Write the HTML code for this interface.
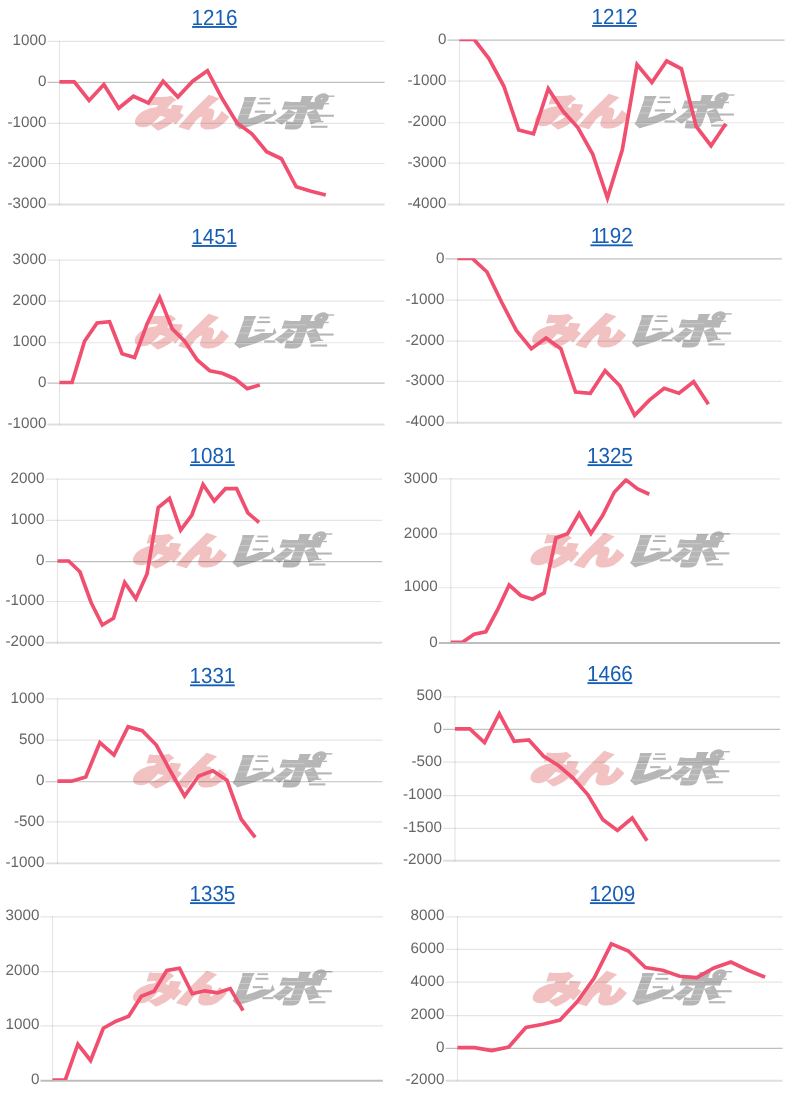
<!DOCTYPE html>
<html lang="ja"><head><meta charset="utf-8"><title>charts</title>
<style>
html,body{margin:0;padding:0;background:#fff;}
body{width:800px;height:1095px;overflow:hidden;}
svg{display:block;}
.lb{font-family:"Liberation Sans",Arial,Helvetica,sans-serif;font-size:15.2px;fill:#666666;text-anchor:end;text-rendering:geometricPrecision;}
.tt{font-family:"Liberation Sans",Arial,Helvetica,sans-serif;font-size:20.6px;fill:#155db5;text-anchor:middle;text-rendering:geometricPrecision;}
.wm{font-family:"Liberation Sans","Noto Sans CJK JP",sans-serif;font-weight:900;font-size:40px;text-rendering:geometricPrecision;}
.ln{fill:none;stroke:#f14f6f;stroke-width:3.7;stroke-linejoin:miter;stroke-linecap:butt;}
</style></head><body>
<svg width="800" height="1095" viewBox="0 0 800 1095">
<rect width="800" height="1095" fill="#fff"/>
<defs><clipPath id="clipRe"><polygon points="-95,46 48.5,46 40,72.8 58.5,72.8 67,46 130,46 130,94 -95,94"/></clipPath></defs>
<g id="c1">
<a><text class="tt" transform="translate(214.5,25.05) scale(1,1.06)">1216</text></a>
<rect x="192.1" y="26.05" width="44.8" height="1.85" fill="#155db5"/>
<g transform="translate(214.5,41.3)"><g clip-path="url(#clipRe)"><text class="wm" transform="translate(-81.2,85) scale(1.1469,0.9028) skewX(-15.821)" fill="#f2c2c2" stroke="#f2c2c2" stroke-width="3.3">みん<tspan dx="2.2" fill="#b6b6b6" stroke="#b6b6b6" stroke-width="2.5">レポ</tspan></text></g><rect x="45" y="56.5" width="10.5" height="1.8" fill="#b6b6b6"/><rect x="43" y="61" width="13" height="2" fill="#b6b6b6"/><rect x="40.3" y="69.3" width="10.3" height="2.1" fill="#b6b6b6"/><rect x="50" y="80.3" width="11" height="2.1" fill="#b6b6b6"/><rect x="96.5" y="65.9" width="10.5" height="1.4" fill="#b6b6b6"/><rect x="103.5" y="73.4" width="15.9" height="2.1" fill="#b6b6b6"/><rect x="100.8" y="79.6" width="8.2" height="1.4" fill="#b6b6b6"/><rect x="96.6" y="84.4" width="16.4" height="2.1" fill="#b6b6b6"/><rect x="111.8" y="54.2" width="8.2" height="1.4" fill="#b6b6b6"/><rect x="100.8" y="61.7" width="13.7" height="1.4" fill="#b6b6b6"/><rect x="30" y="59.6" width="17" height="0.7" fill="#fff" opacity="0.4"/><rect x="27" y="66.2" width="17" height="0.7" fill="#fff" opacity="0.4"/><rect x="24" y="72.6" width="18" height="0.7" fill="#fff" opacity="0.4"/><rect x="22" y="82.9" width="28" height="0.7" fill="#fff" opacity="0.4"/><rect x="64" y="64.5" width="28" height="0.7" fill="#fff" opacity="0.4"/><rect x="62" y="71.9" width="38" height="0.7" fill="#fff" opacity="0.4"/><rect x="60" y="77.6" width="44" height="0.7" fill="#fff" opacity="0.4"/><rect x="58" y="83.2" width="42" height="0.7" fill="#fff" opacity="0.4"/></g>
<line x1="47.5" y1="41.3" x2="384.6" y2="41.3" stroke="#000" stroke-opacity="0.1" stroke-width="1.2"/>
<text class="lb" transform="translate(46.4,44.9) scale(1,1)">1000</text>
<line x1="47.5" y1="82.4" x2="384.6" y2="82.4" stroke="#000" stroke-opacity="0.25" stroke-width="1.2"/>
<text class="lb" transform="translate(46.4,86) scale(1,1)">0</text>
<line x1="47.5" y1="123.3" x2="384.6" y2="123.3" stroke="#000" stroke-opacity="0.1" stroke-width="1.2"/>
<text class="lb" transform="translate(46.4,126.9) scale(1,1)">-1000</text>
<line x1="47.5" y1="163.5" x2="384.6" y2="163.5" stroke="#000" stroke-opacity="0.1" stroke-width="1.2"/>
<text class="lb" transform="translate(46.4,167.1) scale(1,1)">-2000</text>
<line x1="47.5" y1="204.5" x2="384.6" y2="204.5" stroke="#000" stroke-opacity="0.125" stroke-width="1.9"/>
<text class="lb" transform="translate(46.4,208.1) scale(1,1)">-3000</text>
<line x1="59.5" y1="40.7" x2="59.5" y2="205.1" stroke="#000" stroke-opacity="0.1" stroke-width="1.2"/>
<clipPath id="cp1"><rect x="58.9" y="40.7" width="326.3" height="163.2"/></clipPath>
<polyline class="ln" clip-path="url(#cp1)" points="59.5,81.8 74.3,81.8 89.09,100.5 103.88,84.5 118.68,108.25 133.47,96.25 148.27,103 163.06,81.25 177.86,97 192.66,81.25 207.45,70.75 222.25,98.75 237.04,123 251.84,133.75 266.63,151.75 281.43,158.75 296.22,186.75 311.01,191.25 325.81,195"/>
</g>
<g id="c2">
<a><text class="tt" transform="translate(614.5,24.05) scale(1,1.06)">1212</text></a>
<rect x="592.1" y="25.05" width="44.8" height="1.85" fill="#155db5"/>
<g transform="translate(614.5,40.1)"><g clip-path="url(#clipRe)"><text class="wm" transform="translate(-81.2,85) scale(1.1469,0.9028) skewX(-15.821)" fill="#f2c2c2" stroke="#f2c2c2" stroke-width="3.3">みん<tspan dx="2.2" fill="#b6b6b6" stroke="#b6b6b6" stroke-width="2.5">レポ</tspan></text></g><rect x="45" y="56.5" width="10.5" height="1.8" fill="#b6b6b6"/><rect x="43" y="61" width="13" height="2" fill="#b6b6b6"/><rect x="40.3" y="69.3" width="10.3" height="2.1" fill="#b6b6b6"/><rect x="50" y="80.3" width="11" height="2.1" fill="#b6b6b6"/><rect x="96.5" y="65.9" width="10.5" height="1.4" fill="#b6b6b6"/><rect x="103.5" y="73.4" width="15.9" height="2.1" fill="#b6b6b6"/><rect x="100.8" y="79.6" width="8.2" height="1.4" fill="#b6b6b6"/><rect x="96.6" y="84.4" width="16.4" height="2.1" fill="#b6b6b6"/><rect x="111.8" y="54.2" width="8.2" height="1.4" fill="#b6b6b6"/><rect x="100.8" y="61.7" width="13.7" height="1.4" fill="#b6b6b6"/><rect x="30" y="59.6" width="17" height="0.7" fill="#fff" opacity="0.4"/><rect x="27" y="66.2" width="17" height="0.7" fill="#fff" opacity="0.4"/><rect x="24" y="72.6" width="18" height="0.7" fill="#fff" opacity="0.4"/><rect x="22" y="82.9" width="28" height="0.7" fill="#fff" opacity="0.4"/><rect x="64" y="64.5" width="28" height="0.7" fill="#fff" opacity="0.4"/><rect x="62" y="71.9" width="38" height="0.7" fill="#fff" opacity="0.4"/><rect x="60" y="77.6" width="44" height="0.7" fill="#fff" opacity="0.4"/><rect x="58" y="83.2" width="42" height="0.7" fill="#fff" opacity="0.4"/></g>
<line x1="447.5" y1="40.1" x2="784.6" y2="40.1" stroke="#000" stroke-opacity="0.25" stroke-width="1.2"/>
<text class="lb" transform="translate(446.4,43.7) scale(1,1)">0</text>
<line x1="447.5" y1="81.2" x2="784.6" y2="81.2" stroke="#000" stroke-opacity="0.1" stroke-width="1.2"/>
<text class="lb" transform="translate(446.4,84.8) scale(1,1)">-1000</text>
<line x1="447.5" y1="122.75" x2="784.6" y2="122.75" stroke="#000" stroke-opacity="0.1" stroke-width="1.2"/>
<text class="lb" transform="translate(446.4,126.35) scale(1,1)">-2000</text>
<line x1="447.5" y1="163.1" x2="784.6" y2="163.1" stroke="#000" stroke-opacity="0.1" stroke-width="1.2"/>
<text class="lb" transform="translate(446.4,166.7) scale(1,1)">-3000</text>
<line x1="447.5" y1="204.5" x2="784.6" y2="204.5" stroke="#000" stroke-opacity="0.125" stroke-width="1.9"/>
<text class="lb" transform="translate(446.4,208.1) scale(1,1)">-4000</text>
<line x1="459.5" y1="39.5" x2="459.5" y2="205.1" stroke="#000" stroke-opacity="0.1" stroke-width="1.2"/>
<clipPath id="cp2"><rect x="458.9" y="39.5" width="326.3" height="164.4"/></clipPath>
<polyline class="ln" clip-path="url(#cp2)" points="459.5,39.5 474.3,39.5 489.09,58.75 503.88,86.25 518.68,130 533.48,133.75 548.27,88.75 563.07,111.25 577.86,127.5 592.65,154 607.45,198 622.25,150 637.04,64.6 651.84,82.5 666.63,61 681.42,68.75 696.22,126.5 711.01,145.75 725.81,123.75"/>
</g>
<g id="c3">
<a><text class="tt" transform="translate(214.2,244.05) scale(1,1.06)">1451</text></a>
<rect x="191.8" y="245.05" width="44.8" height="1.85" fill="#155db5"/>
<g transform="translate(214.2,260.1)"><g clip-path="url(#clipRe)"><text class="wm" transform="translate(-81.2,85) scale(1.1469,0.9028) skewX(-15.821)" fill="#f2c2c2" stroke="#f2c2c2" stroke-width="3.3">みん<tspan dx="2.2" fill="#b6b6b6" stroke="#b6b6b6" stroke-width="2.5">レポ</tspan></text></g><rect x="45" y="56.5" width="10.5" height="1.8" fill="#b6b6b6"/><rect x="43" y="61" width="13" height="2" fill="#b6b6b6"/><rect x="40.3" y="69.3" width="10.3" height="2.1" fill="#b6b6b6"/><rect x="50" y="80.3" width="11" height="2.1" fill="#b6b6b6"/><rect x="96.5" y="65.9" width="10.5" height="1.4" fill="#b6b6b6"/><rect x="103.5" y="73.4" width="15.9" height="2.1" fill="#b6b6b6"/><rect x="100.8" y="79.6" width="8.2" height="1.4" fill="#b6b6b6"/><rect x="96.6" y="84.4" width="16.4" height="2.1" fill="#b6b6b6"/><rect x="111.8" y="54.2" width="8.2" height="1.4" fill="#b6b6b6"/><rect x="100.8" y="61.7" width="13.7" height="1.4" fill="#b6b6b6"/><rect x="30" y="59.6" width="17" height="0.7" fill="#fff" opacity="0.4"/><rect x="27" y="66.2" width="17" height="0.7" fill="#fff" opacity="0.4"/><rect x="24" y="72.6" width="18" height="0.7" fill="#fff" opacity="0.4"/><rect x="22" y="82.9" width="28" height="0.7" fill="#fff" opacity="0.4"/><rect x="64" y="64.5" width="28" height="0.7" fill="#fff" opacity="0.4"/><rect x="62" y="71.9" width="38" height="0.7" fill="#fff" opacity="0.4"/><rect x="60" y="77.6" width="44" height="0.7" fill="#fff" opacity="0.4"/><rect x="58" y="83.2" width="42" height="0.7" fill="#fff" opacity="0.4"/></g>
<line x1="47.5" y1="260.1" x2="384.6" y2="260.1" stroke="#000" stroke-opacity="0.1" stroke-width="1.2"/>
<text class="lb" transform="translate(46.4,263.7) scale(1,1)">3000</text>
<line x1="47.5" y1="301.2" x2="384.6" y2="301.2" stroke="#000" stroke-opacity="0.1" stroke-width="1.2"/>
<text class="lb" transform="translate(46.4,304.8) scale(1,1)">2000</text>
<line x1="47.5" y1="342.75" x2="384.6" y2="342.75" stroke="#000" stroke-opacity="0.1" stroke-width="1.2"/>
<text class="lb" transform="translate(46.4,346.35) scale(1,1)">1000</text>
<line x1="47.5" y1="383.1" x2="384.6" y2="383.1" stroke="#000" stroke-opacity="0.25" stroke-width="1.2"/>
<text class="lb" transform="translate(46.4,386.7) scale(1,1)">0</text>
<line x1="47.5" y1="424.5" x2="384.6" y2="424.5" stroke="#000" stroke-opacity="0.125" stroke-width="1.9"/>
<text class="lb" transform="translate(46.4,428.1) scale(1,1)">-1000</text>
<line x1="59.5" y1="259.5" x2="59.5" y2="425.1" stroke="#000" stroke-opacity="0.1" stroke-width="1.2"/>
<clipPath id="cp3"><rect x="58.9" y="259.5" width="326.3" height="164.4"/></clipPath>
<polyline class="ln" clip-path="url(#cp3)" points="59.5,382.5 72.02,382.5 84.54,341.25 97.06,323 109.58,321.75 122.1,353.75 134.62,357.5 147.14,323.75 159.66,297.5 172.18,328.75 184.7,341.25 197.22,360 209.74,370.7 222.26,373.2 234.78,378.7 247.3,388.6 259.82,385"/>
</g>
<g id="c4">
<a><text class="tt" transform="translate(611.65,243.4) scale(1,1.06)">1<tspan dx="-2.3">1</tspan>92</text></a>
<rect x="590.4" y="244.4" width="42.5" height="1.85" fill="#155db5"/>
<g transform="translate(611.65,258.95)"><g clip-path="url(#clipRe)"><text class="wm" transform="translate(-81.2,85) scale(1.1469,0.9028) skewX(-15.821)" fill="#f2c2c2" stroke="#f2c2c2" stroke-width="3.3">みん<tspan dx="2.2" fill="#b6b6b6" stroke="#b6b6b6" stroke-width="2.5">レポ</tspan></text></g><rect x="45" y="56.5" width="10.5" height="1.8" fill="#b6b6b6"/><rect x="43" y="61" width="13" height="2" fill="#b6b6b6"/><rect x="40.3" y="69.3" width="10.3" height="2.1" fill="#b6b6b6"/><rect x="50" y="80.3" width="11" height="2.1" fill="#b6b6b6"/><rect x="96.5" y="65.9" width="10.5" height="1.4" fill="#b6b6b6"/><rect x="103.5" y="73.4" width="15.9" height="2.1" fill="#b6b6b6"/><rect x="100.8" y="79.6" width="8.2" height="1.4" fill="#b6b6b6"/><rect x="96.6" y="84.4" width="16.4" height="2.1" fill="#b6b6b6"/><rect x="111.8" y="54.2" width="8.2" height="1.4" fill="#b6b6b6"/><rect x="100.8" y="61.7" width="13.7" height="1.4" fill="#b6b6b6"/><rect x="30" y="59.6" width="17" height="0.7" fill="#fff" opacity="0.4"/><rect x="27" y="66.2" width="17" height="0.7" fill="#fff" opacity="0.4"/><rect x="24" y="72.6" width="18" height="0.7" fill="#fff" opacity="0.4"/><rect x="22" y="82.9" width="28" height="0.7" fill="#fff" opacity="0.4"/><rect x="64" y="64.5" width="28" height="0.7" fill="#fff" opacity="0.4"/><rect x="62" y="71.9" width="38" height="0.7" fill="#fff" opacity="0.4"/><rect x="60" y="77.6" width="44" height="0.7" fill="#fff" opacity="0.4"/><rect x="58" y="83.2" width="42" height="0.7" fill="#fff" opacity="0.4"/></g>
<line x1="445.5" y1="258.95" x2="781.8" y2="258.95" stroke="#000" stroke-opacity="0.25" stroke-width="1.2"/>
<text class="lb" transform="translate(444.4,262.55) scale(1,1)">0</text>
<line x1="445.5" y1="300.2" x2="781.8" y2="300.2" stroke="#000" stroke-opacity="0.1" stroke-width="1.2"/>
<text class="lb" transform="translate(444.4,303.8) scale(1,1)">-1000</text>
<line x1="445.5" y1="341.2" x2="781.8" y2="341.2" stroke="#000" stroke-opacity="0.1" stroke-width="1.2"/>
<text class="lb" transform="translate(444.4,344.8) scale(1,1)">-2000</text>
<line x1="445.5" y1="381.3" x2="781.8" y2="381.3" stroke="#000" stroke-opacity="0.1" stroke-width="1.2"/>
<text class="lb" transform="translate(444.4,384.9) scale(1,1)">-3000</text>
<line x1="445.5" y1="422.7" x2="781.8" y2="422.7" stroke="#000" stroke-opacity="0.125" stroke-width="1.9"/>
<text class="lb" transform="translate(444.4,426.3) scale(1,1)">-4000</text>
<line x1="457.5" y1="258.35" x2="457.5" y2="423.3" stroke="#000" stroke-opacity="0.1" stroke-width="1.2"/>
<clipPath id="cp4"><rect x="456.9" y="258.35" width="325.5" height="163.75"/></clipPath>
<polyline class="ln" clip-path="url(#cp4)" points="457.5,258.35 472.26,258.35 487.02,272 501.78,302.5 516.54,330.75 531.3,348.75 546.06,338 560.82,348.75 575.58,392 590.34,393.25 605.1,370.7 619.86,385.8 634.62,415.3 649.38,400.1 664.14,388.3 678.9,393.25 693.66,381.7 708.42,404.25"/>
</g>
<g id="c5">
<a><text class="tt" transform="translate(212.4,463.2) scale(1,1.06)">1081</text></a>
<rect x="190" y="464.2" width="44.8" height="1.85" fill="#155db5"/>
<g transform="translate(212.4,479.1)"><g clip-path="url(#clipRe)"><text class="wm" transform="translate(-81.2,85) scale(1.1469,0.9028) skewX(-15.821)" fill="#f2c2c2" stroke="#f2c2c2" stroke-width="3.3">みん<tspan dx="2.2" fill="#b6b6b6" stroke="#b6b6b6" stroke-width="2.5">レポ</tspan></text></g><rect x="45" y="56.5" width="10.5" height="1.8" fill="#b6b6b6"/><rect x="43" y="61" width="13" height="2" fill="#b6b6b6"/><rect x="40.3" y="69.3" width="10.3" height="2.1" fill="#b6b6b6"/><rect x="50" y="80.3" width="11" height="2.1" fill="#b6b6b6"/><rect x="96.5" y="65.9" width="10.5" height="1.4" fill="#b6b6b6"/><rect x="103.5" y="73.4" width="15.9" height="2.1" fill="#b6b6b6"/><rect x="100.8" y="79.6" width="8.2" height="1.4" fill="#b6b6b6"/><rect x="96.6" y="84.4" width="16.4" height="2.1" fill="#b6b6b6"/><rect x="111.8" y="54.2" width="8.2" height="1.4" fill="#b6b6b6"/><rect x="100.8" y="61.7" width="13.7" height="1.4" fill="#b6b6b6"/><rect x="30" y="59.6" width="17" height="0.7" fill="#fff" opacity="0.4"/><rect x="27" y="66.2" width="17" height="0.7" fill="#fff" opacity="0.4"/><rect x="24" y="72.6" width="18" height="0.7" fill="#fff" opacity="0.4"/><rect x="22" y="82.9" width="28" height="0.7" fill="#fff" opacity="0.4"/><rect x="64" y="64.5" width="28" height="0.7" fill="#fff" opacity="0.4"/><rect x="62" y="71.9" width="38" height="0.7" fill="#fff" opacity="0.4"/><rect x="60" y="77.6" width="44" height="0.7" fill="#fff" opacity="0.4"/><rect x="58" y="83.2" width="42" height="0.7" fill="#fff" opacity="0.4"/></g>
<line x1="45.5" y1="479.1" x2="382.2" y2="479.1" stroke="#000" stroke-opacity="0.1" stroke-width="1.2"/>
<text class="lb" transform="translate(44.4,482.7) scale(1,1)">2000</text>
<line x1="45.5" y1="520.4" x2="382.2" y2="520.4" stroke="#000" stroke-opacity="0.1" stroke-width="1.2"/>
<text class="lb" transform="translate(44.4,524) scale(1,1)">1000</text>
<line x1="45.5" y1="561.6" x2="382.2" y2="561.6" stroke="#000" stroke-opacity="0.25" stroke-width="1.2"/>
<text class="lb" transform="translate(44.4,565.2) scale(1,1)">0</text>
<line x1="45.5" y1="601.5" x2="382.2" y2="601.5" stroke="#000" stroke-opacity="0.1" stroke-width="1.2"/>
<text class="lb" transform="translate(44.4,605.1) scale(1,1)">-1000</text>
<line x1="45.5" y1="642.75" x2="382.2" y2="642.75" stroke="#000" stroke-opacity="0.125" stroke-width="1.9"/>
<text class="lb" transform="translate(44.4,646.35) scale(1,1)">-2000</text>
<line x1="57.5" y1="478.5" x2="57.5" y2="643.35" stroke="#000" stroke-opacity="0.1" stroke-width="1.2"/>
<clipPath id="cp5"><rect x="56.9" y="478.5" width="325.9" height="163.65"/></clipPath>
<polyline class="ln" clip-path="url(#cp5)" points="57.5,561 68.7,561 79.89,571.75 91.09,602.5 102.29,625 113.48,618.25 124.68,582.5 135.88,598.75 147.08,573.75 158.27,507.5 169.47,498.25 180.67,530 191.86,515 203.06,484.5 214.26,501 225.45,488.7 236.65,488.7 247.85,512.9 259.05,522.5"/>
</g>
<g id="c6">
<a><text class="tt" transform="translate(609.9,463.2) scale(1,1.06)">1325</text></a>
<rect x="587.5" y="464.2" width="44.8" height="1.85" fill="#155db5"/>
<g transform="translate(609.9,478.95)"><g clip-path="url(#clipRe)"><text class="wm" transform="translate(-81.2,85) scale(1.1469,0.9028) skewX(-15.821)" fill="#f2c2c2" stroke="#f2c2c2" stroke-width="3.3">みん<tspan dx="2.2" fill="#b6b6b6" stroke="#b6b6b6" stroke-width="2.5">レポ</tspan></text></g><rect x="45" y="56.5" width="10.5" height="1.8" fill="#b6b6b6"/><rect x="43" y="61" width="13" height="2" fill="#b6b6b6"/><rect x="40.3" y="69.3" width="10.3" height="2.1" fill="#b6b6b6"/><rect x="50" y="80.3" width="11" height="2.1" fill="#b6b6b6"/><rect x="96.5" y="65.9" width="10.5" height="1.4" fill="#b6b6b6"/><rect x="103.5" y="73.4" width="15.9" height="2.1" fill="#b6b6b6"/><rect x="100.8" y="79.6" width="8.2" height="1.4" fill="#b6b6b6"/><rect x="96.6" y="84.4" width="16.4" height="2.1" fill="#b6b6b6"/><rect x="111.8" y="54.2" width="8.2" height="1.4" fill="#b6b6b6"/><rect x="100.8" y="61.7" width="13.7" height="1.4" fill="#b6b6b6"/><rect x="30" y="59.6" width="17" height="0.7" fill="#fff" opacity="0.4"/><rect x="27" y="66.2" width="17" height="0.7" fill="#fff" opacity="0.4"/><rect x="24" y="72.6" width="18" height="0.7" fill="#fff" opacity="0.4"/><rect x="22" y="82.9" width="28" height="0.7" fill="#fff" opacity="0.4"/><rect x="64" y="64.5" width="28" height="0.7" fill="#fff" opacity="0.4"/><rect x="62" y="71.9" width="38" height="0.7" fill="#fff" opacity="0.4"/><rect x="60" y="77.6" width="44" height="0.7" fill="#fff" opacity="0.4"/><rect x="58" y="83.2" width="42" height="0.7" fill="#fff" opacity="0.4"/></g>
<line x1="438.75" y1="478.95" x2="780.1" y2="478.95" stroke="#000" stroke-opacity="0.1" stroke-width="1.2"/>
<text class="lb" transform="translate(437.65,482.55) scale(1,1)">3000</text>
<line x1="438.75" y1="533.9" x2="780.1" y2="533.9" stroke="#000" stroke-opacity="0.1" stroke-width="1.2"/>
<text class="lb" transform="translate(437.65,537.5) scale(1,1)">2000</text>
<line x1="438.75" y1="587.75" x2="780.1" y2="587.75" stroke="#000" stroke-opacity="0.1" stroke-width="1.2"/>
<text class="lb" transform="translate(437.65,591.35) scale(1,1)">1000</text>
<line x1="438.75" y1="642.9" x2="780.1" y2="642.9" stroke="#000" stroke-opacity="0.26" stroke-width="2.0"/>
<text class="lb" transform="translate(437.65,646.5) scale(1,1)">0</text>
<line x1="450.75" y1="478.35" x2="450.75" y2="643.5" stroke="#000" stroke-opacity="0.1" stroke-width="1.2"/>
<clipPath id="cp6"><rect x="450.15" y="478.35" width="330.55" height="163.95"/></clipPath>
<polyline class="ln" clip-path="url(#cp6)" points="450.75,642.3 462.43,642.3 474.11,634.25 485.79,631.75 497.47,610 509.15,585 520.83,595.5 532.51,599.25 544.19,593 555.87,538 567.55,533.75 579.23,513.5 590.91,533.5 602.59,515.6 614.27,492.25 625.95,479.9 637.63,489 649.31,494.2"/>
</g>
<g id="c7">
<a><text class="tt" transform="translate(212.4,683.4) scale(1,1.06)">1331</text></a>
<rect x="190" y="684.4" width="44.8" height="1.85" fill="#155db5"/>
<g transform="translate(212.4,698.95)"><g clip-path="url(#clipRe)"><text class="wm" transform="translate(-81.2,85) scale(1.1469,0.9028) skewX(-15.821)" fill="#f2c2c2" stroke="#f2c2c2" stroke-width="3.3">みん<tspan dx="2.2" fill="#b6b6b6" stroke="#b6b6b6" stroke-width="2.5">レポ</tspan></text></g><rect x="45" y="56.5" width="10.5" height="1.8" fill="#b6b6b6"/><rect x="43" y="61" width="13" height="2" fill="#b6b6b6"/><rect x="40.3" y="69.3" width="10.3" height="2.1" fill="#b6b6b6"/><rect x="50" y="80.3" width="11" height="2.1" fill="#b6b6b6"/><rect x="96.5" y="65.9" width="10.5" height="1.4" fill="#b6b6b6"/><rect x="103.5" y="73.4" width="15.9" height="2.1" fill="#b6b6b6"/><rect x="100.8" y="79.6" width="8.2" height="1.4" fill="#b6b6b6"/><rect x="96.6" y="84.4" width="16.4" height="2.1" fill="#b6b6b6"/><rect x="111.8" y="54.2" width="8.2" height="1.4" fill="#b6b6b6"/><rect x="100.8" y="61.7" width="13.7" height="1.4" fill="#b6b6b6"/><rect x="30" y="59.6" width="17" height="0.7" fill="#fff" opacity="0.4"/><rect x="27" y="66.2" width="17" height="0.7" fill="#fff" opacity="0.4"/><rect x="24" y="72.6" width="18" height="0.7" fill="#fff" opacity="0.4"/><rect x="22" y="82.9" width="28" height="0.7" fill="#fff" opacity="0.4"/><rect x="64" y="64.5" width="28" height="0.7" fill="#fff" opacity="0.4"/><rect x="62" y="71.9" width="38" height="0.7" fill="#fff" opacity="0.4"/><rect x="60" y="77.6" width="44" height="0.7" fill="#fff" opacity="0.4"/><rect x="58" y="83.2" width="42" height="0.7" fill="#fff" opacity="0.4"/></g>
<line x1="45.5" y1="698.95" x2="382.4" y2="698.95" stroke="#000" stroke-opacity="0.1" stroke-width="1.2"/>
<text class="lb" transform="translate(44.4,702.55) scale(1,1)">1000</text>
<line x1="45.5" y1="740.2" x2="382.4" y2="740.2" stroke="#000" stroke-opacity="0.1" stroke-width="1.2"/>
<text class="lb" transform="translate(44.4,743.8) scale(1,1)">500</text>
<line x1="45.5" y1="781.75" x2="382.4" y2="781.75" stroke="#000" stroke-opacity="0.25" stroke-width="1.2"/>
<text class="lb" transform="translate(44.4,785.35) scale(1,1)">0</text>
<line x1="45.5" y1="821.95" x2="382.4" y2="821.95" stroke="#000" stroke-opacity="0.1" stroke-width="1.2"/>
<text class="lb" transform="translate(44.4,825.55) scale(1,1)">-500</text>
<line x1="45.5" y1="863.4" x2="382.4" y2="863.4" stroke="#000" stroke-opacity="0.125" stroke-width="1.9"/>
<text class="lb" transform="translate(44.4,867) scale(1,1)">-1000</text>
<line x1="57.5" y1="698.35" x2="57.5" y2="864" stroke="#000" stroke-opacity="0.1" stroke-width="1.2"/>
<clipPath id="cp7"><rect x="56.9" y="698.35" width="326.1" height="164.45"/></clipPath>
<polyline class="ln" clip-path="url(#cp7)" points="57.5,781.15 71.62,781.15 85.74,777 99.86,742.5 113.98,755 128.1,726.75 142.22,730.75 156.34,745 170.46,771.25 184.58,796 198.7,776 212.82,770.8 226.94,780.2 241.06,819 255.18,837.4"/>
</g>
<g id="c8">
<a><text class="tt" transform="translate(609.9,681.2) scale(1,1.06)">1466</text></a>
<rect x="587.5" y="682.2" width="44.8" height="1.85" fill="#155db5"/>
<g transform="translate(609.9,696.8)"><g clip-path="url(#clipRe)"><text class="wm" transform="translate(-81.2,85) scale(1.1469,0.9028) skewX(-15.821)" fill="#f2c2c2" stroke="#f2c2c2" stroke-width="3.3">みん<tspan dx="2.2" fill="#b6b6b6" stroke="#b6b6b6" stroke-width="2.5">レポ</tspan></text></g><rect x="45" y="56.5" width="10.5" height="1.8" fill="#b6b6b6"/><rect x="43" y="61" width="13" height="2" fill="#b6b6b6"/><rect x="40.3" y="69.3" width="10.3" height="2.1" fill="#b6b6b6"/><rect x="50" y="80.3" width="11" height="2.1" fill="#b6b6b6"/><rect x="96.5" y="65.9" width="10.5" height="1.4" fill="#b6b6b6"/><rect x="103.5" y="73.4" width="15.9" height="2.1" fill="#b6b6b6"/><rect x="100.8" y="79.6" width="8.2" height="1.4" fill="#b6b6b6"/><rect x="96.6" y="84.4" width="16.4" height="2.1" fill="#b6b6b6"/><rect x="111.8" y="54.2" width="8.2" height="1.4" fill="#b6b6b6"/><rect x="100.8" y="61.7" width="13.7" height="1.4" fill="#b6b6b6"/><rect x="30" y="59.6" width="17" height="0.7" fill="#fff" opacity="0.4"/><rect x="27" y="66.2" width="17" height="0.7" fill="#fff" opacity="0.4"/><rect x="24" y="72.6" width="18" height="0.7" fill="#fff" opacity="0.4"/><rect x="22" y="82.9" width="28" height="0.7" fill="#fff" opacity="0.4"/><rect x="64" y="64.5" width="28" height="0.7" fill="#fff" opacity="0.4"/><rect x="62" y="71.9" width="38" height="0.7" fill="#fff" opacity="0.4"/><rect x="60" y="77.6" width="44" height="0.7" fill="#fff" opacity="0.4"/><rect x="58" y="83.2" width="42" height="0.7" fill="#fff" opacity="0.4"/></g>
<line x1="443" y1="696.8" x2="780.1" y2="696.8" stroke="#000" stroke-opacity="0.1" stroke-width="1.2"/>
<text class="lb" transform="translate(441.9,700.4) scale(1,1)">500</text>
<line x1="443" y1="729.4" x2="780.1" y2="729.4" stroke="#000" stroke-opacity="0.25" stroke-width="1.2"/>
<text class="lb" transform="translate(441.9,733) scale(1,1)">0</text>
<line x1="443" y1="762.2" x2="780.1" y2="762.2" stroke="#000" stroke-opacity="0.1" stroke-width="1.2"/>
<text class="lb" transform="translate(441.9,765.8) scale(1,1)">-500</text>
<line x1="443" y1="795.7" x2="780.1" y2="795.7" stroke="#000" stroke-opacity="0.1" stroke-width="1.2"/>
<text class="lb" transform="translate(441.9,799.3) scale(1,1)">-1000</text>
<line x1="443" y1="828.3" x2="780.1" y2="828.3" stroke="#000" stroke-opacity="0.1" stroke-width="1.2"/>
<text class="lb" transform="translate(441.9,831.9) scale(1,1)">-1500</text>
<line x1="443" y1="860.7" x2="780.1" y2="860.7" stroke="#000" stroke-opacity="0.125" stroke-width="1.9"/>
<text class="lb" transform="translate(441.9,864.3) scale(1,1)">-2000</text>
<line x1="455" y1="696.2" x2="455" y2="861.3" stroke="#000" stroke-opacity="0.1" stroke-width="1.2"/>
<clipPath id="cp8"><rect x="454.4" y="696.2" width="326.3" height="163.9"/></clipPath>
<polyline class="ln" clip-path="url(#cp8)" points="455,728.8 469.77,728.8 484.54,742.5 499.31,713.75 514.08,741.25 528.85,740 543.62,756.25 558.39,765.5 573.16,778 587.93,794.75 602.7,819.5 617.47,830.5 632.24,818.1 647.01,840.7"/>
</g>
<g id="c9">
<a><text class="tt" transform="translate(212.4,901.2) scale(1,1.06)">1335</text></a>
<rect x="190" y="902.2" width="44.8" height="1.85" fill="#155db5"/>
<g transform="translate(212.4,916.8)"><g clip-path="url(#clipRe)"><text class="wm" transform="translate(-81.2,85) scale(1.1469,0.9028) skewX(-15.821)" fill="#f2c2c2" stroke="#f2c2c2" stroke-width="3.3">みん<tspan dx="2.2" fill="#b6b6b6" stroke="#b6b6b6" stroke-width="2.5">レポ</tspan></text></g><rect x="45" y="56.5" width="10.5" height="1.8" fill="#b6b6b6"/><rect x="43" y="61" width="13" height="2" fill="#b6b6b6"/><rect x="40.3" y="69.3" width="10.3" height="2.1" fill="#b6b6b6"/><rect x="50" y="80.3" width="11" height="2.1" fill="#b6b6b6"/><rect x="96.5" y="65.9" width="10.5" height="1.4" fill="#b6b6b6"/><rect x="103.5" y="73.4" width="15.9" height="2.1" fill="#b6b6b6"/><rect x="100.8" y="79.6" width="8.2" height="1.4" fill="#b6b6b6"/><rect x="96.6" y="84.4" width="16.4" height="2.1" fill="#b6b6b6"/><rect x="111.8" y="54.2" width="8.2" height="1.4" fill="#b6b6b6"/><rect x="100.8" y="61.7" width="13.7" height="1.4" fill="#b6b6b6"/><rect x="30" y="59.6" width="17" height="0.7" fill="#fff" opacity="0.4"/><rect x="27" y="66.2" width="17" height="0.7" fill="#fff" opacity="0.4"/><rect x="24" y="72.6" width="18" height="0.7" fill="#fff" opacity="0.4"/><rect x="22" y="82.9" width="28" height="0.7" fill="#fff" opacity="0.4"/><rect x="64" y="64.5" width="28" height="0.7" fill="#fff" opacity="0.4"/><rect x="62" y="71.9" width="38" height="0.7" fill="#fff" opacity="0.4"/><rect x="60" y="77.6" width="44" height="0.7" fill="#fff" opacity="0.4"/><rect x="58" y="83.2" width="42" height="0.7" fill="#fff" opacity="0.4"/></g>
<line x1="40.5" y1="916.8" x2="382.9" y2="916.8" stroke="#000" stroke-opacity="0.1" stroke-width="1.2"/>
<text class="lb" transform="translate(39.4,920.4) scale(1,1)">3000</text>
<line x1="40.5" y1="971.7" x2="382.9" y2="971.7" stroke="#000" stroke-opacity="0.1" stroke-width="1.2"/>
<text class="lb" transform="translate(39.4,975.3) scale(1,1)">2000</text>
<line x1="40.5" y1="1025.8" x2="382.9" y2="1025.8" stroke="#000" stroke-opacity="0.1" stroke-width="1.2"/>
<text class="lb" transform="translate(39.4,1029.4) scale(1,1)">1000</text>
<line x1="40.5" y1="1080.7" x2="382.9" y2="1080.7" stroke="#000" stroke-opacity="0.26" stroke-width="2.0"/>
<text class="lb" transform="translate(39.4,1084.3) scale(1,1)">0</text>
<line x1="52.5" y1="916.2" x2="52.5" y2="1081.3" stroke="#000" stroke-opacity="0.1" stroke-width="1.2"/>
<clipPath id="cp9"><rect x="51.9" y="916.2" width="331.6" height="163.9"/></clipPath>
<polyline class="ln" clip-path="url(#cp9)" points="52.5,1080.1 65.2,1080.1 77.9,1044.25 90.6,1060.5 103.3,1028.25 116,1021.25 128.7,1016.25 141.4,996.25 154.1,991.25 166.8,970.5 179.5,968.25 192.2,993.7 204.9,990.8 217.6,992.75 230.3,988.6 243,1010.6"/>
</g>
<g id="c10">
<a><text class="tt" transform="translate(612.3,901.2) scale(1,1.06)">1209</text></a>
<rect x="589.9" y="902.2" width="44.8" height="1.85" fill="#155db5"/>
<g transform="translate(612.3,916.8)"><g clip-path="url(#clipRe)"><text class="wm" transform="translate(-81.2,85) scale(1.1469,0.9028) skewX(-15.821)" fill="#f2c2c2" stroke="#f2c2c2" stroke-width="3.3">みん<tspan dx="2.2" fill="#b6b6b6" stroke="#b6b6b6" stroke-width="2.5">レポ</tspan></text></g><rect x="45" y="56.5" width="10.5" height="1.8" fill="#b6b6b6"/><rect x="43" y="61" width="13" height="2" fill="#b6b6b6"/><rect x="40.3" y="69.3" width="10.3" height="2.1" fill="#b6b6b6"/><rect x="50" y="80.3" width="11" height="2.1" fill="#b6b6b6"/><rect x="96.5" y="65.9" width="10.5" height="1.4" fill="#b6b6b6"/><rect x="103.5" y="73.4" width="15.9" height="2.1" fill="#b6b6b6"/><rect x="100.8" y="79.6" width="8.2" height="1.4" fill="#b6b6b6"/><rect x="96.6" y="84.4" width="16.4" height="2.1" fill="#b6b6b6"/><rect x="111.8" y="54.2" width="8.2" height="1.4" fill="#b6b6b6"/><rect x="100.8" y="61.7" width="13.7" height="1.4" fill="#b6b6b6"/><rect x="30" y="59.6" width="17" height="0.7" fill="#fff" opacity="0.4"/><rect x="27" y="66.2" width="17" height="0.7" fill="#fff" opacity="0.4"/><rect x="24" y="72.6" width="18" height="0.7" fill="#fff" opacity="0.4"/><rect x="22" y="82.9" width="28" height="0.7" fill="#fff" opacity="0.4"/><rect x="64" y="64.5" width="28" height="0.7" fill="#fff" opacity="0.4"/><rect x="62" y="71.9" width="38" height="0.7" fill="#fff" opacity="0.4"/><rect x="60" y="77.6" width="44" height="0.7" fill="#fff" opacity="0.4"/><rect x="58" y="83.2" width="42" height="0.7" fill="#fff" opacity="0.4"/></g>
<line x1="445.5" y1="916.8" x2="782.6" y2="916.8" stroke="#000" stroke-opacity="0.1" stroke-width="1.2"/>
<text class="lb" transform="translate(444.4,920.4) scale(1,1)">8000</text>
<line x1="445.5" y1="949.4" x2="782.6" y2="949.4" stroke="#000" stroke-opacity="0.1" stroke-width="1.2"/>
<text class="lb" transform="translate(444.4,953) scale(1,1)">6000</text>
<line x1="445.5" y1="982.2" x2="782.6" y2="982.2" stroke="#000" stroke-opacity="0.1" stroke-width="1.2"/>
<text class="lb" transform="translate(444.4,985.8) scale(1,1)">4000</text>
<line x1="445.5" y1="1015.7" x2="782.6" y2="1015.7" stroke="#000" stroke-opacity="0.1" stroke-width="1.2"/>
<text class="lb" transform="translate(444.4,1019.3) scale(1,1)">2000</text>
<line x1="445.5" y1="1048.3" x2="782.6" y2="1048.3" stroke="#000" stroke-opacity="0.25" stroke-width="1.2"/>
<text class="lb" transform="translate(444.4,1051.9) scale(1,1)">0</text>
<line x1="445.5" y1="1080.7" x2="782.6" y2="1080.7" stroke="#000" stroke-opacity="0.125" stroke-width="1.9"/>
<text class="lb" transform="translate(444.4,1084.3) scale(1,1)">-2000</text>
<line x1="457.5" y1="916.2" x2="457.5" y2="1081.3" stroke="#000" stroke-opacity="0.1" stroke-width="1.2"/>
<clipPath id="cp10"><rect x="456.9" y="916.2" width="326.3" height="163.9"/></clipPath>
<polyline class="ln" clip-path="url(#cp10)" points="457.5,1047.7 474.59,1047.7 491.68,1050.5 508.77,1047 525.86,1027.5 542.95,1024.25 560.04,1020 577.13,1001.75 594.22,978 611.31,943.8 628.4,951 645.49,967.5 662.58,970.2 679.67,976.25 696.76,977.6 713.85,968 730.94,962 748.03,970.2 765.12,977.1"/>
</g>
</svg></body></html>
